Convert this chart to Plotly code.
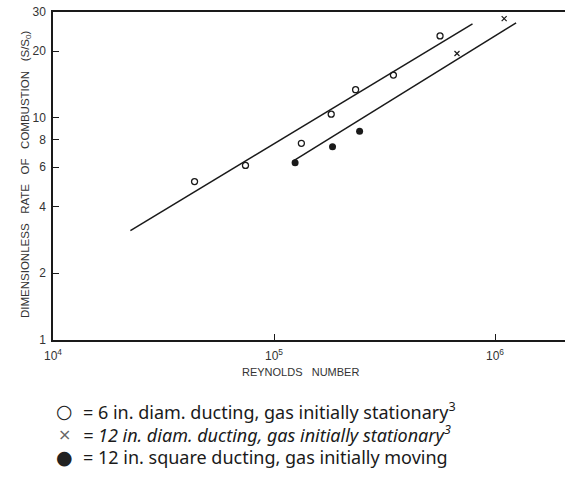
import numpy as np
import plotly.graph_objects as go

# Reynolds number vs dimensionless rate of combustion (S/S0)
re_6in_diam = [43700, 74300, 133000, 181500, 234000, 347000, 564000]
rate_6in_diam = [5.17, 6.11, 7.69, 10.4, 13.4, 15.6, 23.4]

re_12in_diam = [673000, 1100000]
rate_12in_diam = [19.5, 28.0]

re_12in_square = [124600, 184000, 244000]
rate_12in_square = [6.29, 7.42, 8.72]

# correlation lines (end points)
re_line_upper = [22400, 791000]
rate_line_upper = [3.11, 26.5]
re_line_lower = [121400, 1246000]
rate_line_lower = [6.37, 26.8]

y_ticks = [1, 2, 4, 6, 8, 10, 20, 30]
x_ticks = [1e4, 1e5, 1e6]
x_ticktext = ["10<sup>4</sup>", "10<sup>5</sup>", "10<sup>6</sup>"]

legend_lines = [
    ("○", "= 6 in. diam. ducting, gas initially stationary<sup>3</sup>", False),
    ("×", "= 12 in. diam. ducting, gas initially stationary<sup>3</sup>", True),
    ("●", "= 12 in. square ducting, gas initially moving", False),
]

ink = "#1a1a1a"
fig = go.Figure()

fig.add_trace(go.Scatter(x=re_line_upper, y=rate_line_upper, mode="lines",
                         line=dict(color=ink, width=1.5), showlegend=False))
fig.add_trace(go.Scatter(x=re_line_lower, y=rate_line_lower, mode="lines",
                         line=dict(color=ink, width=1.5), showlegend=False))
fig.add_trace(go.Scatter(x=re_6in_diam, y=rate_6in_diam, mode="markers",
                         marker=dict(symbol="circle-open", size=6, color=ink,
                                     line=dict(width=1.3, color=ink)),
                         showlegend=False))
fig.add_trace(go.Scatter(x=re_12in_diam, y=rate_12in_diam, mode="markers",
                         marker=dict(symbol="x-thin-open", size=5, color=ink,
                                     line=dict(width=1.2, color=ink)),
                         showlegend=False))
fig.add_trace(go.Scatter(x=re_12in_square, y=rate_12in_square, mode="markers",
                         marker=dict(symbol="circle", size=7, color=ink),
                         showlegend=False))

W, H = 565, 490
ml, mr, mt, mb = 53, 0, 12, 150
pw, ph = W - ml - mr, H - mt - mb


def px_to_paper(px, py):
    return (px - ml) / pw, (H - mb - py) / ph


tick_font = dict(family="Liberation Sans Narrow, Arial Narrow, Liberation Sans, Arial",
                 size=12, color="#333")
title_font = dict(family="Liberation Sans Narrow, Arial", size=11, color="#333")

fig.update_xaxes(type="log", range=[4, 4 + pw / 221.0],
                 tickvals=x_ticks, ticktext=x_ticktext,
                 ticks="inside", ticklen=6, tickcolor=ink, tickwidth=1,
                 ticklabelstandoff=4,
                 showline=True, linecolor=ink, linewidth=1.5, mirror=True,
                 showgrid=False, zeroline=False, tickfont=tick_font)
fig.update_yaxes(type="log", range=[0, np.log10(30)],
                 tickvals=y_ticks, ticktext=[str(v) for v in y_ticks],
                 ticks="inside", ticklen=6, tickcolor=ink, tickwidth=1,
                 ticklabelstandoff=3,
                 showline=True, linecolor=ink, linewidth=1.5, mirror=False,
                 showgrid=False, zeroline=False, tickfont=tick_font)

annotations = []
# axis titles
ax, ay = px_to_paper(300, 380)
annotations.append(dict(x=ax, y=ay, xref="paper", yref="paper",
                        text="REYNOLDS   NUMBER", showarrow=False,
                        font=title_font))
ax, ay = px_to_paper(17, 174)
annotations.append(dict(x=ax, y=ay, xref="paper", yref="paper", textangle=-90,
                        text="DIMENSIONLESS   RATE   OF   COMBUSTION   (S/S<sub>0</sub>)",
                        showarrow=False,
                        font=dict(family="Liberation Sans Narrow, Arial", size=11.5, color="#333")))

# key below the chart
key_rows_y = [411, 434, 457]
for (sym, txt, italic), py in zip(legend_lines, key_rows_y):
    sx, sy = px_to_paper(64, py)
    annotations.append(dict(x=sx, y=sy, xref="paper", yref="paper", text=sym,
                            showarrow=False, xanchor="center", yanchor="middle",
                            font=dict(family="DejaVu Sans", size=19 if sym != "×" else 16,
                                      color="#222" if sym != "×" else "#666")))
    tx, ty = px_to_paper(81, py)
    shown = f"<i>{txt}</i>" if italic else txt
    annotations.append(dict(x=tx, y=ty, xref="paper", yref="paper", text=shown,
                            showarrow=False, xanchor="left", yanchor="middle",
                            font=dict(family="Noto Sans", size=18, color="#1a1a1a")))

fig.update_layout(width=W, height=H, margin=dict(l=ml, r=mr, t=mt, b=mb),
                  paper_bgcolor="white", plot_bgcolor="white",
                  annotations=annotations, showlegend=False)

fig.write_html("out.html")
